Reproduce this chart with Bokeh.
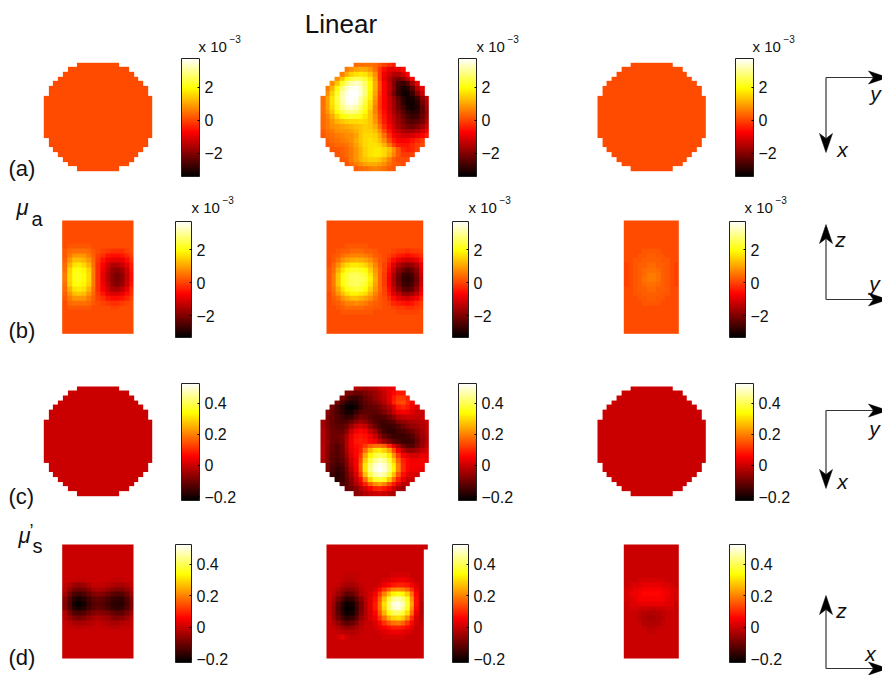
import numpy as np
from bokeh.plotting import figure
from bokeh.embed import file_html
from bokeh.resources import INLINE
from bokeh.core.properties import value
from bokeh.models import Range1d, LinearColorMapper, ColorBar, FixedTicker

# ---------- data ----------
# mu_a maps in 1e-4 units, mu_s' maps in 1e-2 units; areas not listed are 0
CIRCLE_ROW_CELLS = [9,13,15,17,19,21,21,23,23,23,23,23,23,23,23,23,21,21,19,17,15,13,9]

A2 = [
[3,4,4,4,3,1,-1,-3,-5],
[5,7,9,10,10,8,4,-2,-7,-10,-11,-10,-7],
[6,10,14,16,17,16,13,7,-2,-9,-13,-16,-16,-13,-8],
[7,13,19,23,25,25,22,17,9,-2,-10,-15,-20,-22,-20,-15,-8],
[7,13,21,27,31,33,31,26,19,10,0,-8,-14,-21,-27,-29,-26,-18,-10],
[5,11,19,27,33,36,36,33,27,19,10,0,-8,-14,-20,-28,-32,-31,-25,-16,-10],
[7,14,22,30,35,37,37,34,27,18,9,-1,-8,-15,-22,-29,-33,-33,-29,-21,-14],
[4,9,16,24,31,36,37,36,31,25,18,8,-2,-8,-13,-19,-25,-31,-33,-32,-28,-20,-14],
[4,9,16,23,30,35,37,35,30,23,16,7,-2,-8,-13,-18,-24,-30,-33,-33,-30,-23,-16],
[4,9,15,22,28,32,33,31,27,21,15,6,-2,-8,-13,-18,-23,-28,-32,-33,-31,-25,-18],
[4,8,13,19,24,27,28,27,24,19,13,6,-1,-7,-12,-17,-21,-26,-29,-31,-30,-25,-19],
[3,6,10,15,19,21,22,21,20,17,13,7,0,-6,-11,-15,-19,-24,-27,-29,-28,-24,-18],
[3,5,8,11,13,14,15,15,16,15,13,8,1,-5,-10,-14,-18,-22,-25,-26,-25,-22,-16],
[3,5,7,8,9,10,11,12,13,14,13,10,4,-3,-8,-13,-17,-20,-22,-23,-21,-18,-13],
[2,4,5,7,8,8,9,11,13,14,14,12,7,0,-6,-11,-14,-17,-18,-18,-16,-13,-9],
[1,3,4,5,6,7,7,9,13,15,15,14,10,4,-3,-8,-11,-13,-13,-12,-10,-8,-5],
[2,3,4,5,6,7,10,13,15,16,15,12,7,0,-5,-8,-9,-8,-6,-4,-2],
[1,2,3,3,4,6,9,12,15,16,16,15,11,5,-1,-5,-6,-6,-4,-2,0],
[1,1,2,3,5,8,11,14,16,17,17,15,12,7,1,-4,-5,-4,-1],
[1,2,3,5,8,11,14,16,17,17,15,11,6,1,-2,-2,-1],
[1,2,5,8,11,13,14,14,13,10,6,2,0,0,0],
[1,3,5,7,9,10,10,9,7,4,2,1,0],
[2,3,4,5,6,5,4,2,1],
]

C2 = [
[-2,-3,-4,-3,-2,0,2,3,4],
[-8,-9,-11,-11,-9,-7,-5,-3,0,3,6,8,8],
[-9,-13,-16,-16,-14,-11,-9,-6,-4,-1,3,8,12,12,9],
[-9,-14,-18,-19,-18,-15,-12,-10,-8,-6,-3,2,9,13,14,10,6],
[-9,-14,-18,-21,-22,-20,-16,-13,-12,-11,-9,-6,-3,2,8,10,8,4,2],
[-7,-11,-14,-17,-20,-20,-16,-13,-12,-12,-12,-11,-8,-5,-1,3,5,4,2,0,0],
[-8,-11,-13,-15,-17,-16,-12,-9,-10,-12,-14,-14,-13,-10,-7,-3,-1,0,0,-1,0],
[-4,-9,-11,-13,-14,-14,-11,-7,-5,-7,-10,-13,-15,-15,-14,-12,-8,-6,-5,-4,-3,-2,0],
[-4,-8,-11,-12,-12,-10,-5,-1,1,-1,-6,-11,-14,-16,-16,-15,-13,-10,-8,-6,-5,-3,-1],
[-3,-7,-10,-11,-11,-7,0,4,6,5,0,-5,-11,-15,-17,-17,-15,-14,-12,-10,-7,-4,-1],
[-3,-7,-10,-10,-9,-4,3,7,8,7,4,0,-6,-11,-14,-16,-16,-16,-15,-13,-9,-5,-2],
[-3,-6,-10,-11,-9,-3,4,8,9,8,6,4,0,-5,-9,-12,-14,-16,-16,-15,-11,-6,-2],
[-2,-7,-11,-13,-10,-3,4,7,8,12,16,18,18,16,10,3,-4,-10,-13,-13,-9,-5,-1],
[-2,-7,-11,-13,-10,-4,3,6,9,18,26,31,32,29,24,14,5,-2,-6,-6,-4,-1,1],
[-2,-7,-12,-13,-11,-5,2,6,12,24,33,38,40,38,32,22,12,5,2,1,1,3,3],
[-3,-8,-12,-14,-12,-7,0,5,14,28,38,44,47,45,38,28,17,9,6,4,4,5,4],
[-9,-13,-15,-14,-8,-1,5,16,31,42,49,51,49,42,32,20,10,6,5,5,5],
[-9,-14,-17,-15,-10,-3,4,15,31,43,50,52,50,43,33,20,10,6,4,4,3],
[-15,-18,-16,-11,-5,2,12,27,39,46,48,46,38,27,15,7,3,2,1],
[-17,-16,-12,-7,-1,6,18,29,36,38,36,28,18,9,3,0,0],
[-14,-12,-8,-3,2,9,16,21,23,20,14,8,2,-2,-2],
[-11,-10,-7,-3,1,5,9,10,8,5,0,-4,-5],
[-7,-5,-3,-1,0,1,0,-2,-4],
]

B1_FIRST_ROW = 5
B1 = [
[0,1,1,1,1,1,0,0,0,0,0,0,0,0,0],
[1,3,4,4,4,3,1,0,-1,-2,-3,-3,-3,-1,0],
[1,5,8,8,8,5,2,-1,-3,-6,-7,-7,-6,-4,-1],
[2,8,12,12,11,8,3,-2,-6,-9,-11,-11,-10,-7,-3],
[3,11,16,17,15,11,4,-3,-8,-13,-16,-16,-14,-10,-5],
[4,14,19,20,18,14,5,-3,-9,-15,-19,-20,-18,-13,-6],
[5,15,20,21,19,15,5,-3,-10,-16,-20,-22,-20,-14,-7],
[5,15,20,21,19,15,5,-3,-10,-16,-20,-22,-20,-14,-7],
[4,14,19,20,18,14,5,-3,-9,-15,-19,-21,-19,-13,-6],
[3,11,16,17,16,11,4,-3,-8,-13,-16,-17,-15,-10,-4],
[2,8,12,13,12,8,3,-2,-6,-10,-12,-12,-10,-7,-3],
[1,5,8,8,8,5,2,-1,-3,-6,-7,-7,-6,-4,-1],
[0,3,4,4,4,3,1,0,-1,-2,-3,-3,-2,-1,0],
[0,1,1,1,1,1,0,0,0,0,-1,-1,0,0,0],
]

B2_FIRST_ROW = 5
B2 = [
[0,0,0,0,1,1,1,1,1,0,0,0,0,0,0,0,0,0,0,0,0],
[0,0,1,2,2,3,3,3,2,2,1,0,0,0,-1,-2,-2,-3,-2,-2,-1],
[0,1,2,4,5,6,6,6,5,4,2,1,0,-1,-3,-5,-6,-7,-6,-5,-3],
[0,1,4,7,9,10,11,10,9,7,4,1,0,-3,-7,-10,-12,-13,-12,-10,-6],
[0,3,7,12,15,17,17,16,14,11,6,2,-1,-5,-11,-16,-19,-20,-19,-16,-10],
[1,4,10,16,20,22,22,21,19,14,8,3,-1,-7,-14,-20,-24,-26,-24,-20,-12],
[1,5,13,19,23,25,25,24,22,17,9,3,-2,-8,-16,-23,-28,-29,-27,-22,-13],
[1,5,13,20,23,25,26,25,23,18,10,3,-2,-9,-17,-24,-29,-30,-28,-23,-14],
[1,5,13,19,23,25,26,24,22,17,9,3,-2,-8,-16,-23,-28,-29,-27,-22,-13],
[1,4,10,16,20,22,23,22,19,14,8,3,-1,-7,-14,-20,-25,-26,-24,-19,-11],
[0,3,8,12,16,18,18,17,15,11,6,2,-1,-5,-11,-15,-19,-20,-18,-15,-8],
[0,2,4,8,10,12,12,11,9,7,4,1,0,-3,-7,-10,-12,-13,-11,-9,-5],
[0,1,2,4,6,6,7,6,5,3,2,1,0,-1,-4,-5,-6,-7,-6,-4,-2],
[0,0,1,2,3,3,3,3,2,2,1,1,0,0,-1,-2,-2,-3,-3,-2,-1],
[0,0,0,1,1,1,1,1,1,1,0,0,0,0,0,-1,-1,-1,-1,-1,0],
]

B3_FIRST_ROW = 6
B3 = [
[0,0,0,0,1,1,1,1,0,0,0,0],
[0,0,0,1,1,2,2,1,1,0,0,0],
[0,0,1,1,2,2,2,2,1,1,0,0],
[-1,0,1,2,2,3,3,2,2,1,0,-1],
[-1,0,1,2,3,4,4,3,2,1,0,-1],
[-1,0,1,2,3,5,5,4,2,1,0,-1],
[-1,0,1,2,4,5,5,4,2,1,0,-1],
[-1,0,1,2,3,4,4,3,2,1,0,-1],
[0,0,1,2,2,3,3,2,2,1,0,0],
[0,0,1,1,2,2,2,2,1,1,0,0],
[0,0,0,1,1,2,2,1,1,0,0,0],
[0,0,0,0,1,1,1,1,0,0,0,0],
]

D1_FIRST_ROW = 7
D1 = [
[0,0,-1,-1,-1,0,0,0,0,0,-1,-1,-1,0,0],
[-1,-3,-5,-6,-5,-3,-1,-1,-1,-2,-3,-4,-4,-3,-1],
[-2,-6,-9,-10,-9,-7,-4,-3,-4,-5,-7,-8,-8,-6,-3],
[-4,-10,-14,-15,-14,-11,-8,-7,-8,-10,-12,-13,-13,-10,-5],
[-7,-13,-18,-20,-18,-15,-12,-11,-12,-14,-16,-17,-17,-13,-8],
[-8,-14,-20,-22,-20,-16,-13,-12,-13,-15,-17,-18,-18,-14,-9],
[-7,-13,-18,-20,-18,-15,-12,-11,-12,-14,-16,-17,-16,-13,-8],
[-3,-9,-13,-14,-13,-10,-8,-7,-8,-9,-11,-12,-12,-9,-5],
[-2,-5,-8,-9,-8,-6,-4,-3,-4,-5,-7,-8,-7,-5,-2],
[-1,-2,-4,-4,-4,-3,-2,-1,-2,-3,-4,-4,-3,-2,-1],
[0,-1,-1,-2,-1,-1,-1,0,-1,-1,-2,-2,-1,-1,0],
]

D2_FIRST_ROW = 6
D2 = [
[0,0,0,0,-1,-1,-1,0,0,0,0,0,0,0,1,1,1,1,0,0,0],
[0,0,0,-1,-2,-2,-1,0,0,0,0,0,1,2,3,4,4,3,2,0,0],
[0,0,-1,-3,-4,-4,-3,-1,0,0,0,1,4,6,8,9,9,8,5,2,0],
[0,-1,-3,-6,-8,-7,-5,-2,0,0,2,6,11,16,20,21,20,17,11,4,0],
[0,-2,-5,-9,-12,-11,-8,-3,-1,1,5,12,20,27,33,35,33,28,18,6,-1],
[0,-4,-9,-14,-17,-16,-12,-7,-2,2,7,16,27,37,44,46,43,36,22,7,-1],
[-1,-5,-12,-18,-21,-20,-15,-9,-3,2,8,18,30,41,49,51,47,38,24,7,-2],
[-1,-6,-13,-19,-22,-21,-16,-9,-3,2,8,18,29,40,47,49,45,36,22,6,-3],
[-1,-6,-12,-18,-21,-20,-15,-8,-3,1,6,15,25,34,40,41,38,30,18,4,-3],
[0,-5,-10,-15,-17,-16,-12,-6,-2,1,4,11,18,25,29,30,28,21,11,2,-2],
[0,-3,-6,-10,-12,-11,-8,-3,-1,0,2,6,11,15,18,19,17,12,6,1,-1],
[0,-1,-3,-5,-7,-6,-4,-2,0,0,1,3,5,7,9,9,8,6,3,0,0],
[0,0,-1,-2,-3,-3,-2,-1,0,0,0,1,2,3,4,4,3,2,1,0,0],
[0,0,1,3,0,-1,-1,0,0,0,0,0,1,1,1,1,1,0,0,0,0],
]

D3_FIRST_ROW = 7
D3 = [
[0,0,0,1,1,1,1,1,1,0,0,0],
[0,1,2,2,3,3,3,3,2,2,1,0],
[1,2,3,4,5,5,5,5,4,3,2,1],
[1,3,4,5,6,6,6,6,5,4,2,1],
[1,2,3,5,5,5,5,5,5,3,2,1],
[0,2,2,3,3,3,3,3,3,2,2,0],
[0,1,1,0,0,0,-1,0,0,1,1,0],
[0,0,0,-1,-2,-3,-3,-2,-1,0,0,0],
[0,0,0,-2,-3,-4,-4,-3,-2,0,0,0],
[0,0,0,-1,-3,-3,-3,-3,-1,0,0,0],
[0,0,0,0,-1,-2,-2,-1,0,0,0,0],
[0,0,0,0,0,-1,-1,0,0,0,0,0],
]

TITLE = "Linear"
ROW_LABELS = ["(a)", "(b)", "(c)", "(d)"]
MUA_TICKS = [-2, 0, 2]
MUS_TICKS = [-0.2, 0, 0.2, 0.4]
MUA_RANGE = (-3.5, 3.7)
MUA_BAR_A = (-3.4, 3.75)
MUA_BAR_B = (-3.3, 3.7)
MUS_RANGE = (-0.225, 0.525)

# ---------- helpers ----------
W, H = 882, 675
def Y(y):
    return H - y

def hot(n=256):
    out = []
    for i in range(n):
        f = i / (n - 1)
        r = min(f / 0.375, 1)
        g = min(max((f - 0.375) / 0.375, 0), 1)
        b = min(max((f - 0.75) / 0.25, 0), 1)
        out.append("#%02x%02x%02x" % (int(r * 255), int(g * 255), int(b * 255)))
    return out
HOT = hot()

def circle(rows=None):
    n = len(CIRCLE_ROW_CELLS)
    a = np.full((n, n), np.nan)
    for r, c in enumerate(CIRCLE_ROW_CELLS):
        s = (n - c) // 2
        a[r, s:s + c] = 0.0 if rows is None else np.array(rows[r], float)
    return a

def rect(rows, first, ncols, nrows=24):
    a = np.zeros((nrows, ncols))
    a[first:first + len(rows)] = np.array(rows, float)
    return a

p = figure(width=W, height=H, x_range=Range1d(0, W), y_range=Range1d(0, H),
           x_axis_location=None, y_axis_location=None, toolbar_location=None,
           output_backend="svg", min_border=0, outline_line_color=None,
           background_fill_color="white", border_fill_color="white")
p.grid.visible = False

def mapper(rng):
    return LinearColorMapper(palette=HOT, low=rng[0], high=rng[1], nan_color=(0, 0, 0, 0))

mua = mapper(MUA_RANGE)
mus = mapper(MUS_RANGE)

def draw(arr, x0, x1, y0, y1, cmap):
    p.image(image=[arr[::-1]], x=x0, y=Y(y1), dw=x1 - x0, dh=y1 - y0, color_mapper=cmap)

FONT = "Liberation Sans"
def txt(x, y, s, size, align="left", style="normal"):
    p.text(x=[x], y=[Y(y)], text=[s], text_font=value(FONT), text_font_size=f"{size}px",
           text_align=align, text_baseline="middle", text_font_style=style, text_color="#111111")

def cbar(cmap, ticks, labels, x0, x1, y0, y1):
    over = {t: l for t, l in zip(ticks, labels)}
    cb = ColorBar(color_mapper=cmap, location=(int(x0), int(Y(y1))), width=int(x1 - x0), height=int(y1 - y0),
                  padding=0, margin=0, ticker=FixedTicker(ticks=ticks), major_label_overrides=over,
                  major_label_text_font=FONT, major_label_text_font_size="16px",
                  major_label_text_color="#111111", label_standoff=5,
                  major_tick_line_color="black", major_tick_in=2, major_tick_out=0,
                  bar_line_color="#222222", bar_line_width=1, background_fill_color=None,
                  border_line_color=None)
    p.add_layout(cb)

def scale_note(x, y):
    txt(x, y, "x 10", 15)
    txt(x + 31, y - 8, "\u22123", 10)

mua_labels = ["\u22122", "0", "2"]
mus_labels = ["\u22120.2", "0", "0.2", "0.4"]

# ---------- row (a) ----------
CX = [(43.3, 151.7), (320, 428.3), (597, 705.3)]
for (x0, x1), data in zip(CX, [None, A2, None]):
    draw(circle(None if data is None else [np.array(r) / 10 for r in data]), x0, x1, 62.3, 170.7, mua)
for (x0, x1), nx in zip([(181, 199), (458, 476), (735, 753)], [198, 476, 752]):
    cbar(mapper(MUA_BAR_A), MUA_TICKS, mua_labels, x0, x1, 58, 176)
    scale_note(nx, 46)

# ---------- row (b) ----------
draw(rect(B1, B1_FIRST_ROW, 15) / 10, 61.7, 133, 220, 333.3, mua)
draw(rect(B2, B2_FIRST_ROW, 21) / 10, 326, 422.7, 220, 333.3, mua)
draw(rect(B3, B3_FIRST_ROW, 12) / 10, 623.3, 678.3, 220, 333.3, mua)
for (x0, x1), nx in zip([(175, 191), (452, 468), (729, 745)], [191, 468, 744]):
    cbar(mapper(MUA_BAR_B), MUA_TICKS, mua_labels, x0, x1, 221, 337)
    scale_note(nx, 207)

# ---------- row (c) ----------
for (x0, x1), data in zip(CX, [None, C2, None]):
    draw(circle(None if data is None else [np.array(r) / 100 for r in data]), x0, x1, 386, 495.7, mus)
for x0, x1 in [(181, 199), (458, 476), (735, 753)]:
    cbar(mus, MUS_TICKS, mus_labels, x0, x1, 383, 500)

# ---------- row (d) ----------
draw(rect(D1, D1_FIRST_ROW, 15) / 100, 61.7, 133, 544, 658, mus)
d2 = np.full((24, 22), np.nan)
d2[:, :21] = rect(D2, D2_FIRST_ROW, 21) / 100
d2[0, 21] = 0.0
draw(d2, 326, 427.3, 544, 658, mus)
draw(rect(D3, D3_FIRST_ROW, 12) / 100, 623.3, 678.3, 544, 658, mus)
for x0, x1 in [(175, 191), (452, 468), (729, 745)]:
    cbar(mus, MUS_TICKS, mus_labels, x0, x1, 544, 662)

# ---------- text ----------
txt(340.5, 23, TITLE, 26, "center")
for s, y in zip(ROW_LABELS, [168, 330, 496, 657]):
    txt(8, y, s, 22)
txt(16, 207, "\u03bc", 22, style="italic")
txt(31, 218, "a", 20)
txt(18, 535, "\u03bc", 22, style="italic")
txt(29, 530, "\u2019", 18)
txt(32, 545, "s", 20)

# ---------- direction arrows ----------
HEAD_LEN, HEAD_HALF, HEAD_NOTCH = 19, 6.5, 14

def arrow(x0, y0, x1, y1):
    """Thin shaft and a filled, slightly notched head, in reference pixels."""
    dx, dy = np.sign(x1 - x0), np.sign(y1 - y0)
    nx, ny = -dy, dx
    p.segment(x0=[x0], y0=[Y(y0)], x1=[x1 - dx * HEAD_NOTCH], y1=[Y(y1 - dy * HEAD_NOTCH)],
              line_color="#333333", line_width=1.2)
    hx = [x1, x1 - dx * HEAD_LEN + nx * HEAD_HALF, x1 - dx * HEAD_NOTCH, x1 - dx * HEAD_LEN - nx * HEAD_HALF]
    hy = [y1, y1 - dy * HEAD_LEN + ny * HEAD_HALF, y1 - dy * HEAD_NOTCH, y1 - dy * HEAD_LEN - ny * HEAD_HALF]
    p.patch(x=hx, y=[Y(v) for v in hy], fill_color="black", line_color="black", line_width=0.5)

# origin, vertical tip, horizontal tip, labels and their positions
AXES = [
    (825.5, 77, 152, 887, "x", "y", (842, 149), (875, 93)),
    (825.5, 299, 224, 887, "z", "y", (840, 239), (874, 283)),
    (825.5, 410, 488, 887, "x", "y", (842, 481), (874, 428)),
    (825.5, 668, 595, 887, "z", "x", (841, 610), (870, 653)),
]
for x0, y0, vtip, htip, vlab, hlab, vpos, hpos in AXES:
    arrow(x0, y0, x0, vtip)
    arrow(x0, y0, htip, y0)
    txt(vpos[0], vpos[1], vlab, 21, "center", "italic")
    txt(hpos[0], hpos[1], hlab, 21, "center", "italic")

open("out.html", "w").write(file_html(p, INLINE))
